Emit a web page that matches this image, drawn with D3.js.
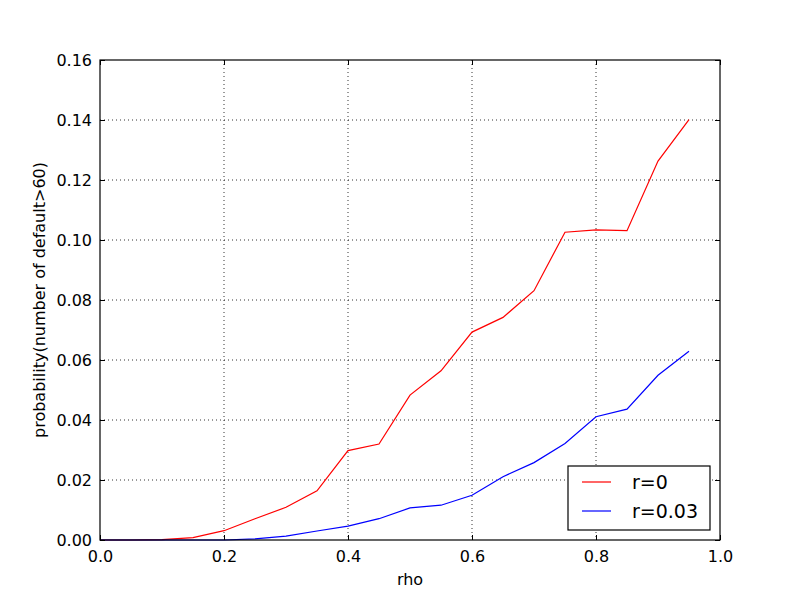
<!DOCTYPE html>
<html><head><meta charset="utf-8">
<script src="https://cdn.jsdelivr.net/npm/d3@7"></script>
<style>body{margin:0;background:#fff;} text{font-family:"DejaVu Sans",sans-serif;}</style>
</head><body>
<svg id="chart" width="800" height="600"></svg>
<script>
const rho = [0,0.05,0.1,0.15,0.2,0.25,0.3,0.35,0.4,0.45,0.5,0.55,0.6,0.65,0.7,0.75,0.8,0.85,0.9,0.95];
const r0 = [0,0,0.0001,0.0008,0.0031,0.0071,0.0109,0.0164,0.0298,0.032,0.0483,0.0564,0.0693,0.0742,0.0831,0.1026,0.1034,0.1031,0.1263,0.1401];
const r003 = [0,0,0,0,0,0.0004,0.0013,0.003,0.0046,0.0071,0.0107,0.0116,0.0149,0.0211,0.0258,0.0322,0.0411,0.0436,0.0549,0.0629];
const xTicks = [0,0.2,0.4,0.6,0.8,1.0];
const yTicks = [0,0.02,0.04,0.06,0.08,0.10,0.12,0.14,0.16];
const seriesNames = ["r=0","r=0.03"];
const seriesColors = ["#ff0000","#0000ff"];

const svg = d3.select("#chart");
const L=100,R=720,T=60,B=540;
const x = d3.scaleLinear().domain([0,1]).range([L,R]);
const y = d3.scaleLinear().domain([0,0.16]).range([B,T]);

// grid
const g = svg.append("g");
g.selectAll(".vg").data(xTicks.slice(1,-1)).enter().append("line")
 .attr("x1",d=>x(d)).attr("x2",d=>x(d)).attr("y1",T).attr("y2",B)
 .attr("stroke","#000").attr("stroke-width",0.8).attr("stroke-dasharray","1,3");
g.selectAll(".hg").data(yTicks.slice(1,-1)).enter().append("line")
 .attr("y1",d=>y(d)).attr("y2",d=>y(d)).attr("x1",L).attr("x2",R)
 .attr("stroke","#000").attr("stroke-width",0.8).attr("stroke-dasharray","1,3");

// lines
const series=[r0,r003];
const line = d3.line().x((d,i)=>x(rho[i])).y(d=>y(d));
series.forEach((s,k)=>{
  svg.append("path").datum(s).attr("d",line).attr("fill","none")
   .attr("stroke",seriesColors[k]).attr("stroke-width",1.2);
});

// axes
const fmtX = d3.format(".1f"), fmtY = d3.format(".2f");
const axB = svg.append("g").attr("transform",`translate(0,${B})`)
 .call(d3.axisBottom(x).tickValues(xTicks).tickFormat(fmtX).tickSizeInner(-5).tickSizeOuter(0).tickPadding(8));
const axT = svg.append("g").attr("transform",`translate(0,${T})`)
 .call(d3.axisTop(x).tickValues(xTicks).tickFormat("").tickSizeInner(-5).tickSizeOuter(0));
const axL = svg.append("g").attr("transform",`translate(${L},0)`)
 .call(d3.axisLeft(y).tickValues(yTicks).tickFormat(fmtY).tickSizeInner(-5).tickSizeOuter(0).tickPadding(8));
const axR = svg.append("g").attr("transform",`translate(${R},0)`)
 .call(d3.axisRight(y).tickValues(yTicks).tickFormat("").tickSizeInner(-5).tickSizeOuter(0));
[axB,axT,axL,axR].forEach(a=>{
  a.select(".domain").remove();
  a.selectAll(".tick line").attr("stroke","#000").attr("stroke-width",1);
  a.selectAll(".tick text").attr("font-size","16px").attr("fill","#000").attr("font-family","DejaVu Sans");
});
axB.selectAll(".tick text").attr("dy","0.9em");
svg.append("rect").attr("x",L).attr("y",T).attr("width",R-L).attr("height",B-T)
 .attr("fill","none").attr("stroke","#000").attr("stroke-width",1.2);

// labels
svg.append("text").attr("x",(L+R)/2).attr("y",585).attr("text-anchor","middle")
 .attr("font-size","16px").text("rho");
svg.append("text").attr("transform",`translate(45,${(T+B)/2}) rotate(-90)`).attr("text-anchor","middle")
 .attr("font-size","16px").text("probability(number of default>60)");

// legend
const lg = svg.append("g");
lg.append("rect").attr("x",568).attr("y",466).attr("width",142).attr("height",64)
 .attr("fill","#fff").attr("stroke","#000").attr("stroke-width",1.2);
seriesNames.forEach((n,k)=>{
  const yy = 482 + k*29;
  lg.append("line").attr("x1",582).attr("x2",611).attr("y1",yy).attr("y2",yy)
   .attr("stroke",seriesColors[k]).attr("stroke-width",1.2);
  lg.append("text").attr("x",632).attr("y",yy).attr("dy","0.35em").attr("font-size","19px").text(n);
});
</script>
</body></html>
